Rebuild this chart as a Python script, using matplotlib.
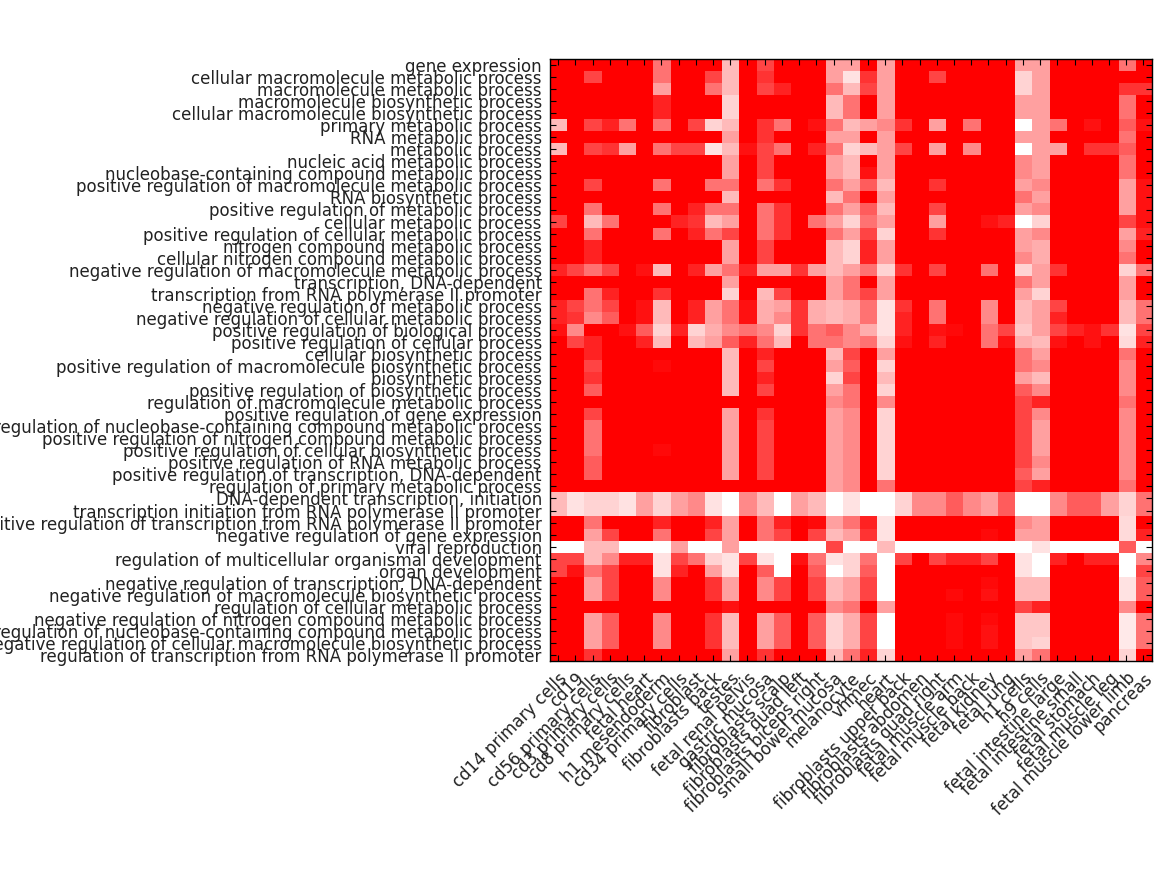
import numpy as np
import matplotlib
matplotlib.use("Agg")
import matplotlib.pyplot as plt
from matplotlib.colors import LinearSegmentedColormap

row_labels = [
    "gene expression",
    "cellular macromolecule metabolic process",
    "macromolecule metabolic process",
    "macromolecule biosynthetic process",
    "cellular macromolecule biosynthetic process",
    "primary metabolic process",
    "RNA metabolic process",
    "metabolic process",
    "nucleic acid metabolic process",
    "nucleobase-containing compound metabolic process",
    "positive regulation of macromolecule metabolic process",
    "RNA biosynthetic process",
    "positive regulation of metabolic process",
    "cellular metabolic process",
    "positive regulation of cellular metabolic process",
    "nitrogen compound metabolic process",
    "cellular nitrogen compound metabolic process",
    "negative regulation of macromolecule metabolic process",
    "transcription, DNA-dependent",
    "transcription from RNA polymerase II promoter",
    "negative regulation of metabolic process",
    "negative regulation of cellular metabolic process",
    "positive regulation of biological process",
    "positive regulation of cellular process",
    "cellular biosynthetic process",
    "positive regulation of macromolecule biosynthetic process",
    "biosynthetic process",
    "positive regulation of biosynthetic process",
    "regulation of macromolecule metabolic process",
    "positive regulation of gene expression",
    "regulation of nucleobase-containing compound metabolic process",
    "positive regulation of nitrogen compound metabolic process",
    "positive regulation of cellular biosynthetic process",
    "positive regulation of RNA metabolic process",
    "positive regulation of transcription, DNA-dependent",
    "regulation of primary metabolic process",
    "DNA-dependent transcription, initiation",
    "transcription initiation from RNA polymerase II promoter",
    "positive regulation of transcription from RNA polymerase II promoter",
    "negative regulation of gene expression",
    "viral reproduction",
    "regulation of multicellular organismal development",
    "organ development",
    "negative regulation of transcription, DNA-dependent",
    "negative regulation of macromolecule biosynthetic process",
    "regulation of cellular metabolic process",
    "negative regulation of nitrogen compound metabolic process",
    "regulation of nucleobase-containing compound metabolic process",
    "negative regulation of cellular macromolecule biosynthetic process",
    "regulation of transcription from RNA polymerase II promoter",
]

col_labels = [
    "cd14 primary cells", "cd19", "cd56 primary cells", "cd3 primary cells",
    "cd8 primary cells", "fetal heart", "h1 mesendoderm", "cd34 primary cells",
    "fibroblast", "fibroblasts back", "testes", "fetal renal pelvis",
    "gastric mucosa", "fibroblasts scalp", "fibroblasts quad left",
    "fibroblasts biceps right", "small bowel mucosa", "melanocyte", "vhmec",
    "heart", "fibroblasts upper back", "fibroblasts abdomen",
    "fibroblasts quad right", "fetal muscle arm", "fetal muscle back",
    "fetal kidney", "fetal lung", "h1 cells", "h9 cells",
    "fetal intestine large", "fetal intestine small", "fetal stomach",
    "fetal muscle leg", "fetal muscle lower limb", "pancreas",
]

# values on a 0 (red) .. 9 (white) scale, one row per term
values = [
    [0,0,0,0,0,0,3,0,0,0,5,0,2,0,0,0,4,4,0,4,0,0,0,0,0,0,0,4,4,0,0,0,0,3,0],
    [0,0,2,0,0,0,3,0,0,2,5,0,1.5,0,0,0,4,7,1.5,4,0,0,2,0,0,0,0,6,4,0,0,0,0,0,0],
    [0,0,0,0,0,0,4,0,0,3,5,0,2,1,0,0,3,5,2,4,0,0,0,0,0,0,0,6,4,0,0,0,0,1.5,1.5],
    [0,0,0,0,0,0,1,0,0,0,6,0,0,0,0,0,5,3,0,4,0,0,0,0,0,0,0,4,4,0,0,0,0,3,0],
    [0,0,0,0,0,0,1,0,0,0,6,0,0,0,0,0,5,3,0,4,0,0,0,0,0,0,0,4,4,0,0,0,0,3,0],
    [5,0,2,1,3,0,3,0,2,6,5,0,1.5,3,0,0.5,3,5,4,3.5,1.5,0,4,0,3,0,0,9,4,3,0,0.5,0,2.5,0.5],
    [0,0,0,0,0,0,0,0,0,0,4,0,1.5,0,0,0,4,4,0,4,0,0,0,0,0,0,0,4,4,0,0,0,0,3,0],
    [5,0,2,1.5,4,0,3,2,2,7,5,0.5,2,3,0,1,3,6,5,4,2,0,4,0,3.5,0,0,9,4,4,0,1.5,1.5,2.5,0],
    [0,0,0,0,0,0,0,0,0,0,4,0,2,0,0,0,4,5,0,4,0,0,0,0,0,0,0,3.5,4,0,0,0,0,3,0],
    [0,0,0,0,0,0,0,0,0,0,4,0,2,0,0,0,4,5,0.5,4,0,0,0,0,0,0,0,3.5,4,0,0,0,0,3,0],
    [0,0,2,0,0,0,3,0,0,3,3,0,3,1.5,0,0,3,4,2.5,5,0,0,1.5,0,0,0,0,4,3.5,0,0,0,0,4,0.5],
    [0,0,0,0,0,0,0,0,0,0,5,0,0,0,0,0,5,3,0,4,0,0,0,0,0,0,0,3,4,0,0,0,0,4,0.5],
    [0,0,3,0,0,0,3,0,1,3,3,0,3,1.5,0,0,3,4,2.5,5,0,0,2,0,0,0,0,4,3.5,0,0,0,0,4,0.5],
    [2,0,5,3,0,0,0,1,1.5,5,4,0,3,1.5,0,3,4,6,3,4,0,0,4,0,0,0.5,1,9,6,0,0,0,0,2,0.5],
    [0,0,3,0,0,0,3,0,1,3,2,0,3,1.5,0,0,3,4,2,6,0,0,1.5,0,0,0,0,4,3.5,0,0,0,0,4,1],
    [0,0,1,0,0,0,0,0,0,0,4,0,2,0,0,0,5,6,1,4,0,0,0,0,0,0,0,4,4.5,0,0,0,0,3.5,0],
    [0,0,1,0,0,0,0,0,0,0,4,0,2,0,0,0,5,6,1,4,0,0,0,0,0,0,0,3.5,4.5,0,0,0,0,3,0],
    [1,2,3,2,0,0.5,5,0,1,4,3,1,4,4,1.5,4,5,4,3,6,1.5,0,2,0,0,3,0,6,4,1.5,0,0,0,6,3],
    [0,0,0,0,0,0,0,0,0,0,4,0,0,0,0,0,4,3,0,4,0,0,0,0,0,0,0,3,4,0,0,0,0,4,0],
    [0,0,3,1,0,0,1.5,0,0,0,6,0,5,2,0,0,4,3,2,4,0,0,0,0,0,0,0,4,6,0,0,0,0,4,0],
    [1,2,3,2,0,0.5,5,0,1,4,3,0.5,4.5,4,1.5,4.5,5,4.5,3,7,1.5,0,3,0,0,3.5,0,5,4,2,0,0,0,5,3],
    [1,1.5,3.5,2.5,0,0.5,5,0,1,4,3,0.5,4.5,3.5,1.5,4.5,5,4.5,3,7,1,0,3,0,0,3.5,0,5,4,1,0,0,0,5,3],
    [0.5,3.5,0,0,0.5,2.5,6,1,6,4.5,3.5,3,3.5,6,1.5,3,2.5,3.5,4.5,7,1,0,0.5,0.3,0,3,2,5.5,4,2,1,0.5,1.5,7,2],
    [0,2,1,0,0,1,5,0,5,4,2.5,1,3,5,0,3,3,3.5,3,6,0.5,0,1,0,0,3,0.5,4.5,5,0.5,0,0.5,0,6.5,1],
    [0,0,1,0,0,0,0,0,0,0,5,0,1,0,0,0,5,2,0,4,0,0,0,0,0,0,0,3,4,0,0,0,0,3,0],
    [0,0,2,0,0,0,0.3,0,0,0,5,0,2,0,0,0,4,2.5,0,6,0,0,0,0,0,0,0,3,3.5,0,0,0,0,3.5,0],
    [0,0,1.5,0,0,0,0,0,0,0,5,0,1,0,0,0,6,2,0,5,0,0,0,0,0,0,0,4,5,0,0,0,0,3.5,0],
    [0,0,2.5,0,0,0,0,0,0,0,5,0,2,0,0,0,4,3,0,6,0,0,0,0,0,0,0,2.5,3.5,0,0,0,0,3.5,0],
    [0,0,0,0,0,0,0,0,0,0,0,0,0,0,0,0,3.5,3,0,3.5,0,0,0,0,0,0,0,2,1,0,0,0,0,3,0],
    [0,0,2,0,0,0,0,0,0,0,4,0,1.5,0,0,0,4,3.5,0,6,0,0,0,0,0,0,0,2,3.5,0,0,0,0,3.5,0],
    [0,0,3,0,0,0,0,0,0,0,4,0,2,0,0,0,4,3.5,0,6,0,0,0,0,0,0,0,2,4,0,0,0,0,3.5,0],
    [0,0,3,0,0,0,0,0,0,0,4,0,2,0,0,0,4,3.5,0,6,0,0,0,0,0,0,0,2,4,0,0,0,0,3.5,0],
    [0,0,3,0,0,0,0.3,0,0,0,4,0,2,0,0,0,4,3.5,0,6,0,0,0,0,0,0,0,2,4,0,0,0,0,3.5,0],
    [0,0,2.5,0,0,0,0,0,0,0,4,0,2,0,0,0,4,3.5,0,6,0,0,0,0,0,0,0,2,3.5,0,0,0,0,3.5,0],
    [0,0,2.5,0,0,0,0,0,0,0,4,0,2,0,0,0,4,3.5,0,6,0,0,0,0,0,0,0,2.5,4,0,0,0,0,3.5,0],
    [0,0,0,0,0,0,0,0,0,0,0,0,0,0,0,0,4,3.5,0,3,0,0,0,0,0,0,0,2,1,0,0,0,0,3,0],
    [5,7,6,6,7,4,6,4,3.5,7,9,3.5,5,9,4,5,9,7,9,9,6,3.5,3.5,2.5,3.5,4,2.5,9,9,3.5,2.5,2.5,4,6,3],
    [5,7,6,6,7,4,6,4,3.5,7,9,3.5,5,9,4,5,9,7,9,9,6,3.5,3.5,2.5,3.5,4,2.5,9,9,3.5,2.5,2.5,4,6,3],
    [0,0,3,0,0,0,1,0,0,1,4,0,3,1,0,0.3,4,3,1,7,0,0,0,0,0,0,0,3.5,4,0,0,0,0,6.5,0],
    [0,0,4,2,0,0,3,0,0,2,4,0,3,2,0,2,5,4,1.5,7,0,0,0,0,0,0.3,0,4,4,0,0,0,0,6.5,1],
    [9,9,5,5,9,9,9,4,9,9,4,9,9,9,9,9,2,9,9,5,9,9,9,9,9,9,9,9,7,9,9,9,9,2.5,9],
    [2,2,5,3.5,1,1,7,2,3,6,7,2,7,9,0.5,3,7,6,3,9,2,0,2,1,1,2,0,7,9,1,0,1,1,9,3.5],
    [2,0.5,3,2,0,0,7,1,0,4,7,0,2.5,9,0,2.5,9,6,2.5,9,0,0,0,0,0,0,0,7,9,0,0,0,0,9,2],
    [0,0,4,2,0,0,3.5,0,0,1.5,4,0,3.5,2,0,2,5,4,2,9,0,0,0,0,0,0.3,0,5,5,0,0,0,0,7,2.5],
    [0,0,4,2,0,0,3.5,0,0,1.5,4,0,3.5,2,0,2,5,4,2,9,0,0,0,0.3,0,0.5,0,5,5,0,0,0,0,7,2.5],
    [0,0,0,0,0,0,0,0,0,0,0.5,0,0,0,0,0,3.5,3,0,4,0,0,0,0,0,0,0,2,1,0,0,0,0,3.5,0],
    [0,0,4,2.5,0,0,3.5,0,0,1.5,5,0,4,2.5,0,2.5,6,4.5,2,9,0,0,0,0.3,0,0.3,0,5.5,5.5,0,0,0,0,7.5,3],
    [0,0,4,2.5,0,0,3.5,0,0,1.5,5,0,4,2.5,0,2.5,6,4.5,2,9,0,0,0,0.3,0,0.5,0,5.5,5.5,0,0,0,0,7.5,3],
    [0,0,4,2.5,0,0,3.5,0,0,1.5,5,0,4,2.5,0,2.5,6,4.5,2,9,0,0,0,0.3,0,0.5,0,5.5,6,0,0,0,0,7.5,3],
    [0,0,1.5,0,0,0,0,0,0,0,4,0,1.5,0,0,0,5,3,1,6,0,0,0,0,0,0,0,4,3,0,0,0,0,6,0],
]

data = np.array(values, dtype=float)
cmap = LinearSegmentedColormap.from_list(
    "redwhite",
    [(0.0, (1.0, 0.0, 0.0)),
     (2 / 9, (1.0, 0.27, 0.27)),
     (4 / 9, (1.0, 0.63, 0.63)),
     (6 / 9, (1.0, 0.83, 0.83)),
     (1.0, (1.0, 1.0, 1.0))])

plt.rcParams["font.family"] = ["DejaVu Sans"]
fig = plt.figure(figsize=(11.67, 8.75), dpi=100)
W, H = 1167.0, 875.0
ax = fig.add_axes([549.5 / W, 1 - 661 / H, 602.5 / W, 602 / H])
ax.imshow(data, cmap=cmap, vmin=0, vmax=9, aspect="auto", interpolation="nearest")

ax.set_xticks(np.arange(len(col_labels)))
ax.set_yticks(np.arange(len(row_labels)))
ax.set_yticklabels(row_labels, fontsize=12, color="#222222")
ax.set_xticklabels(col_labels, fontsize=12, color="#222222", rotation=45,
                   ha="right", rotation_mode="anchor")
ax.tick_params(axis="both", direction="in", length=4, width=0.8,
               top=True, right=True, color="black")
ax.tick_params(axis="y", pad=5.5)
ax.tick_params(axis="x", pad=6)
for s in ax.spines.values():
    s.set_linewidth(1.0)
    s.set_color("black")

fig.savefig("out.png", dpi=100)
